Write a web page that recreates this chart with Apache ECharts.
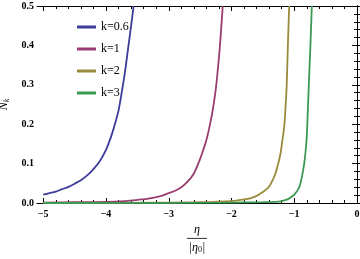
<!DOCTYPE html>
<html>
<head>
<meta charset="utf-8">
<script src="https://cdn.jsdelivr.net/npm/echarts@6/dist/echarts.min.js"></script>
<style>html,body{margin:0;padding:0;background:#fff}#c{width:360px;height:259px}</style>
</head>
<body>
<div id="c"></div>
<script>
// Data (x = eta/|eta0|, y = N_k)
var seriesNames = ['k=0.6', 'k=1', 'k=2', 'k=3'];
var etaK06 = [-5.0, -4.9, -4.8, -4.7, -4.6, -4.5, -4.4, -4.3, -4.2, -4.1, -4.0, -3.95, -3.9, -3.85, -3.8, -3.75, -3.7, -3.65, -3.6, -3.56];
var nK06   = [0.021, 0.025, 0.029, 0.035, 0.041, 0.049, 0.058, 0.070, 0.086, 0.106, 0.135, 0.155, 0.178, 0.205, 0.235, 0.28, 0.33, 0.39, 0.45, 0.50];
var etaK1  = [-5.0, -4.5, -4.0, -3.7, -3.5, -3.3, -3.1, -3.0, -2.9, -2.8, -2.7, -2.6, -2.5, -2.45, -2.4, -2.35, -2.3, -2.25, -2.2, -2.17, -2.14];
var nK1    = [0.001, 0.002, 0.003, 0.005, 0.008, 0.012, 0.019, 0.025, 0.031, 0.040, 0.054, 0.075, 0.112, 0.135, 0.16, 0.194, 0.235, 0.29, 0.37, 0.43, 0.50];
var etaK2  = [-5.0, -3.0, -2.5, -2.0, -1.8, -1.7, -1.6, -1.5, -1.45, -1.4, -1.35, -1.3, -1.26, -1.22, -1.19, -1.16, -1.14, -1.12, -1.10, -1.08];
var nK2    = [0.0, 0.001, 0.002, 0.005, 0.009, 0.012, 0.018, 0.028, 0.034, 0.042, 0.056, 0.075, 0.097, 0.125, 0.158, 0.194, 0.24, 0.30, 0.41, 0.50];
var etaK3  = [-5.0, -2.0, -1.5, -1.3, -1.2, -1.1, -1.03, -0.98, -0.94, -0.91, -0.88, -0.86, -0.84, -0.82, -0.80, -0.78, -0.76, -0.74, -0.72];
var nK3    = [0.0, 0.001, 0.002, 0.003, 0.005, 0.010, 0.017, 0.025, 0.034, 0.045, 0.065, 0.082, 0.101, 0.13, 0.17, 0.25, 0.33, 0.41, 0.50];
var xMajorTicks = [-5, -4, -3, -2, -1, 0];
var xMinorTicks = [-4.8, -4.6, -4.4, -4.2, -3.8, -3.6, -3.4, -3.2, -2.8, -2.6, -2.4, -2.2, -1.8, -1.6, -1.4, -1.2, -0.8, -0.6, -0.4, -0.2];
var colors = ['#3d3d99', '#993d71', '#998b3d', '#3d9954'];

function zip(a, b) { return a.map(function (v, i) { return [v, b[i]]; }); }
var etas = [etaK06, etaK1, etaK2, etaK3];
var ns = [nK06, nK1, nK2, nK3];

var FONT = 'Liberation Serif';
var labelStyle = { fontFamily: FONT, fontSize: 10, fontWeight: 'bold', color: '#000' };

function xAx(pos, ticks, len, labels, line) {
  return {
    type: 'value', position: pos, min: -5.1, max: 0,
    axisLine: { show: line, lineStyle: { color: '#000', width: 1 } },
    axisTick: { show: true, inside: true, length: len, customValues: ticks, lineStyle: { color: '#000' } },
    axisLabel: labels ? Object.assign({ show: true, customValues: xMajorTicks, margin: 6, showMinLabel: true, showMaxLabel: true,
      formatter: function (v) { return v < 0 ? '\u2212' + Math.abs(v) : String(v); } }, labelStyle) : { show: false },
    splitLine: { show: false }
  };
}
function yAx(pos, labels) {
  return {
    type: 'value', position: pos, min: 0, max: 0.5, interval: 0.1,
    axisLine: { show: true, lineStyle: { color: '#000', width: 1 } },
    axisTick: { show: true, inside: true, length: 5, lineStyle: { color: '#000' } },
    minorTick: { show: true, splitNumber: 5, length: 3, lineStyle: { color: '#000' } },
    axisLabel: labels ? Object.assign({ show: true, margin: 3, formatter: function (v) { return v.toFixed(1); } }, labelStyle) : { show: false },
    splitLine: { show: false }
  };
}

var xAxes = [
  xAx('bottom', xMajorTicks, 5, true, true),
  xAx('bottom', xMinorTicks, 3, false, false),
  xAx('top', xMajorTicks, 5, false, true),
  xAx('top', xMinorTicks, 3, false, false)
];
xAxes[0].name = '{e|\u03b7}\n{bar| }\n{d|\u007c\u03b7}{z|0}{d|\u007c}';
xAxes[0].nameLocation = 'middle';
xAxes[0].nameGap = 16;
xAxes[0].nameTextStyle = {
  fontFamily: FONT, color: '#000', align: 'center',
  rich: {
    e: { fontFamily: FONT, fontStyle: 'italic', fontSize: 12, lineHeight: 12, align: 'center' },
    bar: { width: 20, height: 1, lineHeight: 5, backgroundColor: '#333', fontSize: 1, align: 'center' },
    d: { fontFamily: FONT, fontStyle: 'italic', fontSize: 12, lineHeight: 13 },
    z: { fontFamily: FONT, fontSize: 8, lineHeight: 13, verticalAlign: 'bottom', padding: [4, 0, 0, 0] }
  }
};
var yAxes = [yAx('left', true), yAx('right', false)];
yAxes[0].name = '{n|N}{s|k}';
yAxes[0].nameLocation = 'middle';
yAxes[0].nameRotate = 90;
yAxes[0].nameGap = 25;
yAxes[0].nameTextStyle = {
  rich: {
    n: { fontFamily: FONT, fontStyle: 'italic', fontSize: 12, color: '#000', lineHeight: 14 },
    s: { fontFamily: FONT, fontStyle: 'italic', fontSize: 8, color: '#000', lineHeight: 14, verticalAlign: 'bottom', padding: [4, 0, 0, 0] }
  }
};

var series = seriesNames.map(function (name, i) {
  return {
    name: name, type: 'line', xAxisIndex: 0, yAxisIndex: 0,
    data: zip(etas[i], ns[i]), showSymbol: false, symbol: 'none',
    smooth: 0.3, clip: true,
    lineStyle: { color: colors[i], width: 1.8 }, itemStyle: { color: colors[i] }
  };
});

var chart = echarts.init(document.getElementById('c'), null, { renderer: 'canvas' });
chart.setOption({
  animation: false,
  backgroundColor: '#fff',
  color: colors,
  grid: { left: 37, right: 3, top: 6, bottom: 56, containLabel: false, outerBoundsMode: 'none' },
  legend: {
    orient: 'vertical', left: 72, top: 15, itemWidth: 19, itemHeight: 3, itemGap: 8,
    icon: 'rect', data: seriesNames,
    textStyle: { fontFamily: FONT, fontSize: 12, color: '#000', lineHeight: 14 }
  },
  xAxis: xAxes,
  yAxis: yAxes,
  series: series
});
</script>
</body>
</html>
